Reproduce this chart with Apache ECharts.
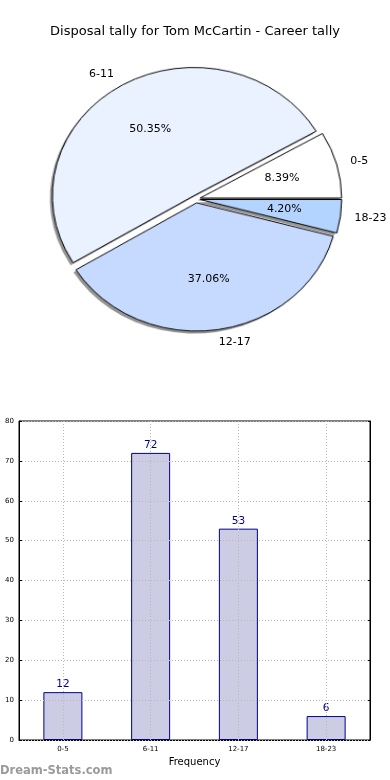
<!DOCTYPE html>
<html>
<head>
<meta charset="utf-8">
<script src="https://cdn.jsdelivr.net/npm/echarts@6/dist/echarts.min.js"></script>
<style>
html,body{margin:0;padding:0;background:#fff}
#wrap{position:relative;width:390px;height:780px;overflow:hidden}
#pie{position:absolute;left:0;top:0;width:390px;height:400px}
#c{position:absolute;left:0;top:0;width:390px;height:780px}
</style>
</head>
<body>
<div id="wrap"><div id="pie"></div><div id="c"></div></div>
<script>
const titleText = 'Disposal tally for Tom McCartin - Career tally';
const categories = ['0-5', '6-11', '12-17', '18-23'];
const counts = [12, 72, 53, 6];
const sliceColors = ['#ffffff', '#eaf1ff', '#c6d9ff', '#b3d4ff'];
const yTicks = [0, 10, 20, 30, 40, 50, 60, 70, 80];
const watermark = 'Dream-Stats.com';

const total = counts.reduce((a, b) => a + b, 0);
const font = 'DejaVu Sans';

// pie geometry (elliptical, like the original figure)
const cx = 196, cy = 199, R = 134;
const rx = 141.5, ry = 128.3;
const sx = rx / R, sy = ry / R;
const explode = 4;
const eFrac = explode / R;

const pieDiv = document.getElementById('pie');
pieDiv.style.transformOrigin = cx + 'px ' + cy + 'px';
pieDiv.style.transform = 'scale(' + sx + ',' + sy + ')';

// mid angles (counter-clockwise from 3 o'clock)
const midAngles = [];
let acc = 0;
counts.forEach(v => { const a = v / total * 360; midAngles.push((acc + a / 2) * Math.PI / 180); acc += a; });

const pieData = categories.map((c, i) => ({
  name: c, value: counts[i], selected: true,
  itemStyle: { color: sliceColors[i] }
}));

const pieChart = echarts.init(pieDiv);
pieChart.setOption({
  animation: false,
  series: [{
    type: 'pie', center: [cx - 2.5 / sx, cy + 2.5 / sy], radius: R,
    startAngle: 0, clockwise: false,
    selectedMode: 'multiple', selectedOffset: explode,
    data: pieData.map(d => ({ name: d.name, value: d.value, selected: true })),
    itemStyle: { color: 'rgba(60,60,60,0.55)', borderWidth: 0 },
    select: { itemStyle: { color: 'rgba(60,60,60,0.55)', borderWidth: 0 } },
    label: { show: false }, labelLine: { show: false },
    emphasis: { disabled: true }, silent: true, z: 1
  }, {
    type: 'pie', center: [cx, cy], radius: R,
    startAngle: 0, clockwise: false,
    selectedMode: 'multiple', selectedOffset: explode,
    data: pieData,
    itemStyle: { borderColor: '#000', borderWidth: 1 },
    select: { itemStyle: { borderColor: '#000', borderWidth: 1 } },
    label: { show: false }, labelLine: { show: false },
    emphasis: { disabled: true }, silent: true, z: 2
  }]
});

function outerLayout(p) {
  const a = midAngles[p.dataIndex];
  const c = Math.cos(a), s = Math.sin(a);
  return {
    x: cx + (1.1 + eFrac) * rx * c,
    y: cy - (1.1 + eFrac) * ry * s,
    align: c > 0 ? 'left' : 'right', verticalAlign: 'middle'
  };
}
function innerLayout(p) {
  const a = midAngles[p.dataIndex];
  const c = Math.cos(a), s = Math.sin(a);
  return {
    x: cx + (0.6 + eFrac) * rx * c,
    y: cy - (0.6 + eFrac) * ry * s,
    align: 'center', verticalAlign: 'middle'
  };
}

const gridLine = { type: [1, 2], color: '#b8b8b8', width: 1 };

const chart = echarts.init(document.getElementById('c'));
chart.setOption({
  animation: false,
  textStyle: { fontFamily: font },
  title: [{
    text: titleText, left: 'center', top: 20,
    textStyle: { fontFamily: font, fontSize: 13, fontWeight: 'normal', color: '#000' }
  }],
  graphic: [{
    type: 'text', left: 0, bottom: 3,
    style: { text: watermark, font: 'bold 11.5px "DejaVu Sans"', fill: '#9a9a9a' }
  }],
  grid: { left: 19, right: 20, top: 421, bottom: 40, show: true, borderColor: '#000', borderWidth: 1 },
  xAxis: [{
    type: 'category', data: categories, gridIndex: 0,
    axisLine: { lineStyle: { color: '#000' } },
    axisTick: { show: true, inside: true, alignWithLabel: true, length: 3, lineStyle: { color: '#000' } },
    axisLabel: { fontSize: 7, color: '#000', margin: 6, fontFamily: font },
    splitLine: { show: false },
    name: 'Frequency', nameLocation: 'middle', nameGap: 17,
    nameTextStyle: { fontSize: 10, color: '#000', fontFamily: font }
  }],
  yAxis: [{
    type: 'value', min: yTicks[0], max: yTicks[yTicks.length - 1], interval: 10, z: 5,
    axisLine: { show: true, lineStyle: { color: '#000' } },
    axisTick: { show: true, inside: true, length: 3, lineStyle: { color: '#000' } },
    axisLabel: { fontSize: 7, color: '#000', margin: 5, fontFamily: font },
    splitLine: { show: true, lineStyle: gridLine }
  }, {
    type: 'value', position: 'right', min: yTicks[0], max: yTicks[yTicks.length - 1], interval: 10,
    axisLine: { show: true, lineStyle: { color: '#000' } },
    axisTick: { show: true, inside: true, length: 3, lineStyle: { color: '#000' } },
    axisLabel: { show: false }, splitLine: { show: false }
  }],
  series: [{
    type: 'pie', center: [cx, cy], radius: R,
    startAngle: 0, clockwise: false, avoidLabelOverlap: false,
    data: categories.map((c, i) => ({ name: c, value: counts[i] })),
    itemStyle: { color: 'rgba(0,0,0,0)', borderWidth: 0 },
    label: { show: true, position: 'outside', formatter: '{b}', fontSize: 11, color: '#000', fontFamily: font },
    labelLine: { show: false },
    labelLayout: outerLayout,
    emphasis: { disabled: true }, silent: true
  }, {
    type: 'pie', center: [cx, cy], radius: R,
    startAngle: 0, clockwise: false, avoidLabelOverlap: false,
    data: categories.map((c, i) => ({ name: c, value: counts[i] })),
    itemStyle: { color: 'rgba(0,0,0,0)', borderWidth: 0 },
    label: {
      show: true, position: 'inside',
      formatter: p => (p.value / total * 100).toFixed(2) + '%',
      fontSize: 11, color: '#000', fontFamily: font
    },
    labelLine: { show: false },
    labelLayout: innerLayout,
    emphasis: { disabled: true }, silent: true
  }, {
    type: 'bar', xAxisIndex: 0, yAxisIndex: 0,
    data: counts, barWidth: 39,
    itemStyle: { color: '#cccce5', borderColor: '#00008b', borderWidth: 1 },
    label: { show: true, position: 'top', distance: 2, fontSize: 10.5, color: '#00008b', fontFamily: font },
    markLine: {
      silent: true, symbol: 'none', label: { show: false },
      lineStyle: gridLine,
      data: categories.map(c => ({ xAxis: c }))
    }
  }]
});
</script>
</body>
</html>
